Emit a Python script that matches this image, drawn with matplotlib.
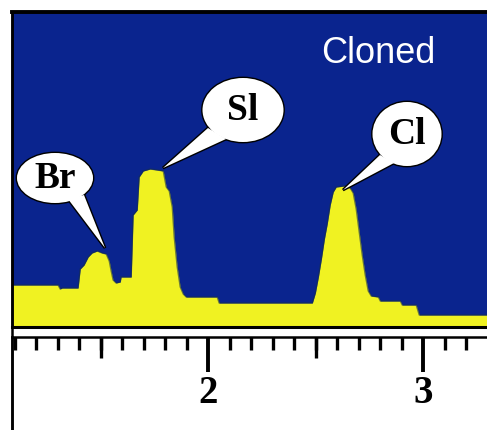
"""
EDS spectrum, 'Cloned' sample: Br / Sl / Cl peaks on a ruler-style energy axis.
"""

import matplotlib
matplotlib.use("Agg")
import matplotlib.pyplot as plt
from matplotlib.patches import Ellipse, Polygon
from matplotlib.lines import Line2D


# --- data ---

energy_kev = [1.088, 1.302, 1.312, 1.321, 1.395, 1.405, 1.423, 1.442, 1.460, 1.484,
              1.507, 1.526, 1.540, 1.549, 1.558, 1.572, 1.591, 1.595, 1.642, 1.651,
              1.670, 1.679, 1.698, 1.730, 1.763, 1.791, 1.805, 1.819, 1.833, 1.842,
              1.856, 1.870, 1.884, 1.898, 2.042, 2.051, 2.484, 2.498, 2.512, 2.526,
              2.540, 2.553, 2.567, 2.581, 2.595, 2.633, 2.660, 2.674, 2.688, 2.702,
              2.716, 2.730, 2.744, 2.758, 2.791, 2.800, 2.893, 2.902, 2.967, 2.981,
              3.298]
counts = [840, 840, 760, 780, 780, 1160, 1240, 1400, 1480, 1520,
          1480, 1460, 1320, 1120, 940, 880, 900, 1000, 1000, 2240,
          2340, 3000, 3120, 3160, 3140, 3120, 2800, 2720, 2400, 1800,
          1200, 800, 660, 600, 600, 480, 480, 680, 1000, 1360,
          1760, 2060, 2440, 2700, 2800, 2820, 2780, 2680, 2360, 1900,
          1440, 1040, 720, 620, 600, 520, 520, 440, 440, 240,
          240]

peak_labels = ["Br", "Sl", "Cl"]
sample_name = "Cloned"
x_range = (1.088, 3.296)
y_max = 6300

major_ticks = [2, 3]
mid_ticks = [1.5, 2.5]
minor_ticks = [round(1.1 + 0.1 * i, 1) for i in range(22)]

BLUE = "#0a248e"
YELLOW = "#f0f222"

W, H = 487, 430
fig = plt.figure(figsize=(W / 100, H / 100), dpi=100)
fig.patch.set_facecolor("white")

# spectrum panel: x 12..487 px, y 12..327 px
ax = fig.add_axes([12 / W, 1 - 327 / H, 475 / W, 315 / H])
ax.set_facecolor(BLUE)
ax.fill_between(energy_kev, counts, 0, color=YELLOW, lw=0)
ax.plot(energy_kev, counts, color="#17304a", lw=1.0, alpha=0.6)
ax.set_xlim(*x_range)
ax.set_ylim(0, y_max)
ax.set_xticks([])
ax.set_yticks([])
ax.spines["right"].set_visible(False)
ax.spines["top"].set_linewidth(2.8)
ax.spines["bottom"].set_linewidth(2.2)
ax.spines["left"].set_linewidth(1.8)

ax.text((321 - 12) / 475, (327 - 63) / 315, sample_name, transform=ax.transAxes,
        color="white", fontsize=26, family="Liberation Sans",
        ha="left", va="baseline")


# --- callouts ---

def px(x, y):
    return ((x - 12) / 475, (327 - y) / 315)


callouts = [
    # label, ellipse centre, ellipse size (px), wedge base 1, base 2, tip
    (peak_labels[0], (55, 178), (76, 50), (68, 199), (84, 195), (105, 248)),
    (peak_labels[1], (243, 110), (81, 64), (208, 128), (226, 139), (163, 168)),
    (peak_labels[2], (407, 134), (69, 64), (380, 155), (394, 163), (343, 190)),
]

for label, c, size, b1, b2, tip in callouts:
    cx, cy = px(*c)
    w, h = size[0] / 475, size[1] / 315
    pts = [px(*b1), px(*tip), px(*b2)]
    # outline layer, then white fill on top -> merged bubble outline
    for lw, ec, z in [(2.0, "black", 5), (0, "none", 6)]:
        ax.add_patch(Polygon(pts, closed=True, transform=ax.transAxes,
                             facecolor="white", edgecolor=ec, lw=lw, zorder=z))
        ax.add_patch(Ellipse((cx, cy), w, h, transform=ax.transAxes,
                             facecolor="white", edgecolor=ec, lw=lw, zorder=z))
    ax.text(cx, cy, label, transform=ax.transAxes, fontsize=27,
            family="Liberation Serif", fontweight="bold", color="black",
            ha="center", va="center", zorder=7)


# --- ruler axis: y 337..430 px ---

rul = fig.add_axes([12 / W, 0, 475 / W, 93 / H])
rul.set_xlim(*x_range)
rul.set_ylim(0, 1)
mid = rul.twiny()   # twiny resets rul ticks to bottom, so set params afterwards
mid.set_xlim(*x_range)

rul.set_yticks([])
rul.spines["right"].set_visible(False)
rul.spines["bottom"].set_visible(False)
rul.spines["top"].set_linewidth(1.8)
rul.spines["left"].set_linewidth(1.8)
rul.set_xticks(major_ticks)
rul.set_xticks(minor_ticks, minor=True)
rul.tick_params(axis="x", which="both", direction="in", top=True, bottom=False,
                labeltop=False, labelbottom=False)
rul.tick_params(axis="x", which="major", length=25, width=2.8)
rul.tick_params(axis="x", which="minor", length=9.5, width=2.4)

mid.set_xticks(mid_ticks)
mid.tick_params(axis="x", which="major", direction="in", length=15, width=2.4,
                top=True, bottom=False, labeltop=False, labelbottom=False)
for s in mid.spines.values():
    s.set_visible(False)

for t in major_ticks:
    rul.text(t, 0.39, str(t), fontsize=28, family="Liberation Serif",
             fontweight="bold", ha="center", va="center")

# left border across the white gap
fig.add_artist(Line2D([12 / W, 12 / W], [0, 1 - 12 / H], color="black", lw=1.8,
                      transform=fig.transFigure))

fig.savefig("out.png", dpi=100)
plt.close(fig)
